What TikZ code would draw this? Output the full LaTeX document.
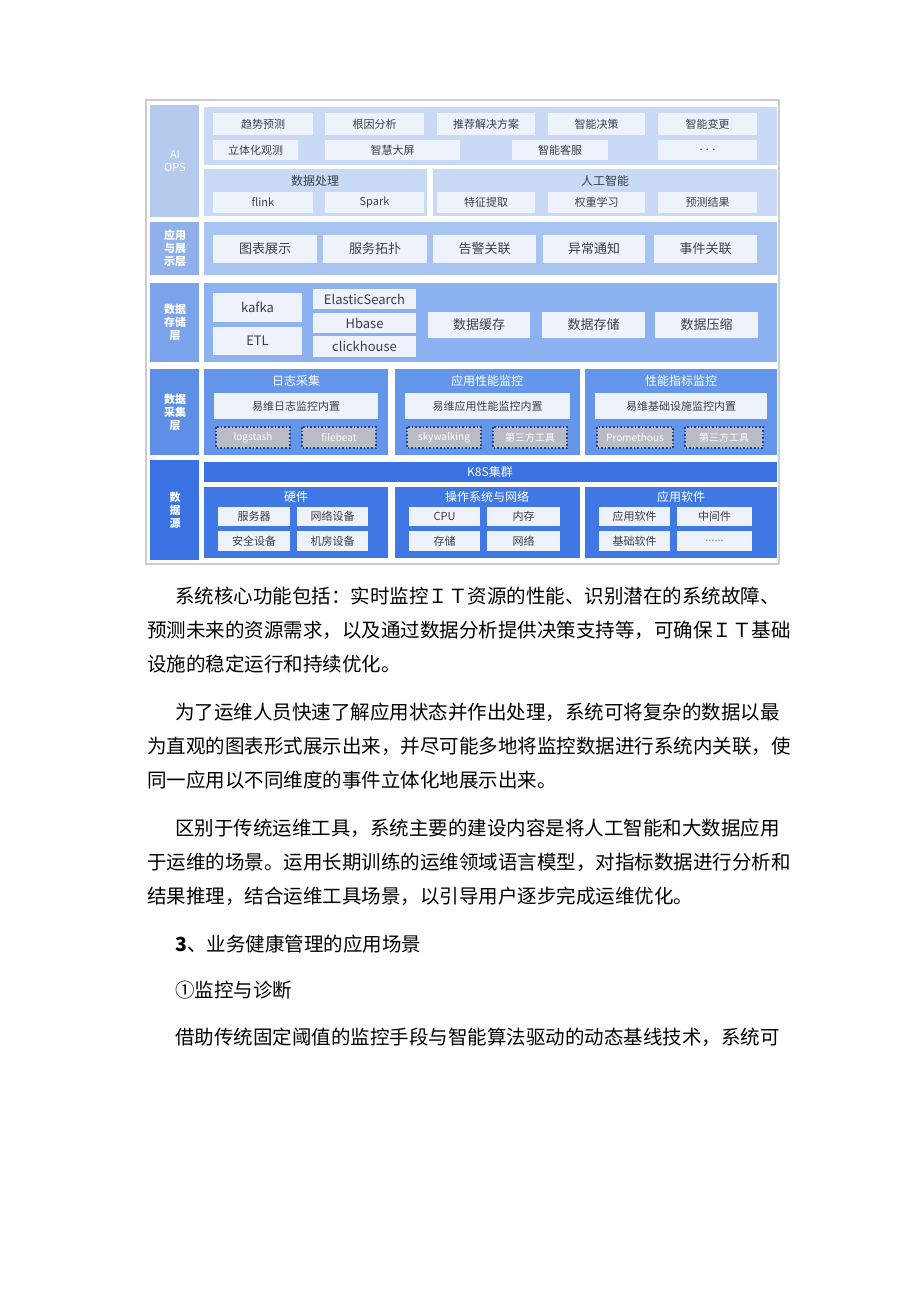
\documentclass[tikz,border=0pt]{standalone}
\usepackage{fontspec}
\setmainfont{Noto Sans CJK SC}
\newfontfamily\cjk{Noto Sans CJK SC}
\definecolor{frm}{HTML}{C8CDD6}
\definecolor{aiL}{HTML}{B5CBEE}\definecolor{aiP}{HTML}{C9DAF6}
\definecolor{bxw}{HTML}{EEF2FA}
\definecolor{apL}{HTML}{8FB0EA}\definecolor{apP}{HTML}{A7C3F2}
\definecolor{stL}{HTML}{7AA3EC}\definecolor{stP}{HTML}{8CB2F2}
\definecolor{coL}{HTML}{5D8FE6}\definecolor{coP}{HTML}{6497EC}
\definecolor{srL}{HTML}{3A72E3}\definecolor{srP}{HTML}{4079E6}
\definecolor{dsh}{HTML}{B9BCC4}\definecolor{txt}{HTML}{3A3F4A}
\newcommand\bx[6]{\fill[#5] (#1,#2) rectangle (#3,#4); \node[font=\fontsize{5.5}{6}\selectfont,text=txt] at ({(#1+#3)/2},{(#2+#4)/2}) {#6};}
\newcommand\dbx[5]{\fill[dsh] (#1,#2) rectangle (#3,#4); \draw[densely dotted,line width=0.8pt,srL!60!black] (#1,#2) rectangle (#3,#4); \node[font=\fontsize{5}{6}\selectfont,text=white] at ({(#1+#3)/2},{(#2+#4)/2}) {#5};}
\tikzset{para/.style={anchor=base west,inner sep=0pt,font=\fontsize{9.75}{12}\selectfont,text=black},
 ttx/.style={font=\fontsize{6}{7}\selectfont}}
\begin{document}
\begin{tikzpicture}[x=0.5pt,y=-0.5pt]
\useasboundingbox (0,0) rectangle (920,1301);
\fill[white] (0,0) rectangle (920,1301);
\draw[frm,line width=1pt] (146,100) rectangle (779,564);
% AI OPS
\fill[aiL] (150,105) rectangle (199,217);
\node[font=\fontsize{5.5}{6.5}\selectfont,text=white,align=center] (lai) at (175,161) {AI\\OPS};
\fill[aiP] (204,107) rectangle (777,165);
\bx{213}{113}{313}{135}{bxw}{趋势预测}
\bx{325}{113}{424}{135}{bxw}{根因分析}
\bx{437}{113}{535}{135}{bxw}{推荐解决方案}
\bx{548}{113}{645}{135}{bxw}{智能决策}
\bx{658}{113}{757}{135}{bxw}{智能变更}
\bx{213}{140}{298}{160}{bxw}{立体化观测}
\bx{325}{140}{460}{160}{bxw}{智慧大屏}
\bx{512}{140}{608}{160}{bxw}{智能客服}
\bx{658}{140}{757}{160}{bxw}{. . .}
\fill[aiP] (204,169) rectangle (427,216);
\fill[aiP] (433,169) rectangle (777,216);
\node[ttx,text=txt] (t1) at (315,181) {数据处理};
\node[ttx,text=txt] (t2) at (605,181) {人工智能};
\bx{213}{192}{313}{213}{bxw}{flink}
\bx{325}{192}{424}{213}{bxw}{Spark}
\bx{437}{192}{535}{213}{bxw}{特征提取}
\bx{548}{192}{645}{213}{bxw}{权重学习}
\bx{658}{192}{757}{213}{bxw}{预测结果}
% app layer
\fill[apL] (150,222) rectangle (199,275);
\node[font=\fontsize{5.5}{6.5}\selectfont\bfseries,text=white,align=center] (lap) at (175,248) {应用\\与展\\示层};
\fill[apP] (204,222) rectangle (777,275);
\bx{213}{235}{317}{263}{bxw}{\fontsize{6.5}{7}\selectfont 图表展示}
\bx{323}{235}{427}{263}{bxw}{\fontsize{6.5}{7}\selectfont 服务拓扑}
\bx{433}{235}{536}{263}{bxw}{\fontsize{6.5}{7}\selectfont 告警关联}
\bx{543}{235}{645}{263}{bxw}{\fontsize{6.5}{7}\selectfont 异常通知}
\bx{654}{235}{757}{263}{bxw}{\fontsize{6.5}{7}\selectfont 事件关联}
% storage
\fill[stL] (150,283) rectangle (199,362);
\node[font=\fontsize{5.5}{6.5}\selectfont\bfseries,text=white,align=center] (lst) at (175,322) {数据\\存储\\层};
\fill[stP] (204,283) rectangle (777,362);
\bx{213}{293}{302}{322}{bxw}{\fontsize{6.5}{7}\selectfont kafka}
\bx{213}{327}{302}{355}{bxw}{\fontsize{6.5}{7}\selectfont ETL}
\bx{313}{289}{416}{309}{bxw}{\fontsize{6.5}{7}\selectfont ElasticSearch}
\bx{313}{313}{416}{333}{bxw}{\fontsize{6.5}{7}\selectfont Hbase}
\bx{313}{336}{416}{357}{bxw}{\fontsize{6.5}{7}\selectfont clickhouse}
\bx{428}{312}{530}{338}{bxw}{\fontsize{6.5}{7}\selectfont 数据缓存}
\bx{542}{312}{645}{338}{bxw}{\fontsize{6.5}{7}\selectfont 数据存储}
\bx{655}{312}{758}{338}{bxw}{\fontsize{6.5}{7}\selectfont 数据压缩}
% collection
\fill[coL] (150,369) rectangle (199,455);
\node[font=\fontsize{5.5}{6.5}\selectfont\bfseries,text=white,align=center] (lco) at (175,412) {数据\\采集\\层};
\fill[coP] (204,369) rectangle (388,455);
\fill[coP] (395,369) rectangle (580,455);
\fill[coP] (585,369) rectangle (777,455);
\node[ttx,text=white] (c1) at (296,381) {日志采集};
\node[ttx,text=white] (c2) at (487,381) {应用性能监控};
\node[ttx,text=white] (c3) at (681,381) {性能指标监控};
\bx{214}{393}{378}{419}{bxw}{易维日志监控内置}
\bx{405}{393}{570}{419}{bxw}{易维应用性能监控内置}
\bx{595}{393}{767}{419}{bxw}{易维基础设施监控内置}
\dbx{216}{427}{290}{448}{logstash}
\dbx{302}{427}{376}{448}{filebeat}
\dbx{407}{427}{481}{448}{skywalking}
\dbx{493}{427}{567}{448}{第三方工具}
\dbx{597}{427}{673}{448}{Promethous}
\dbx{685}{427}{763}{448}{第三方工具}
% data source
\fill[srL] (150,460) rectangle (199,560);
\node[font=\fontsize{5.5}{6.5}\selectfont\bfseries,text=white,align=center] (lsr) at (175,510) {数\\据\\源};
\fill[srL] (204,462) rectangle (777,482);
\node[ttx,text=white] (k8s) at (490,472) {K8S集群};
\fill[srP] (204,487) rectangle (388,558);
\fill[srP] (395,487) rectangle (580,558);
\fill[srP] (585,487) rectangle (777,558);
\node[ttx,text=white] (s1) at (296,497) {硬件};
\node[ttx,text=white] (s2) at (487,497) {操作系统与网络};
\node[ttx,text=white] (s3) at (681,497) {应用软件};
\bx{218}{507}{290}{526}{bxw}{服务器}
\bx{297}{507}{368}{526}{bxw}{网络设备}
\bx{218}{531}{290}{551}{bxw}{安全设备}
\bx{297}{531}{368}{551}{bxw}{机房设备}
\bx{409}{507}{480}{526}{bxw}{CPU}
\bx{487}{507}{560}{526}{bxw}{内存}
\bx{409}{531}{480}{551}{bxw}{存储}
\bx{487}{531}{560}{551}{bxw}{网络}
\bx{599}{507}{670}{526}{bxw}{应用软件}
\bx{677}{507}{752}{526}{bxw}{中间件}
\bx{599}{531}{670}{551}{bxw}{基础软件}
\bx{677}{531}{752}{551}{bxw}{\textcolor{gray}{......}}
% paragraphs
\node[para] (p1) at (175,603) {系统核心功能包括：实时监控ＩＴ资源的性能、识别潜在的系统故障、};
\node[para] (p2) at (147,637) {预测未来的资源需求，以及通过数据分析提供决策支持等，可确保ＩＴ基础};
\node[para] (p3) at (147,671) {设施的稳定运行和持续优化。};
\node[para] (p4) at (175,719) {为了运维人员快速了解应用状态并作出处理，系统可将复杂的数据以最};
\node[para] (p5) at (147,753) {为直观的图表形式展示出来，并尽可能多地将监控数据进行系统内关联，使};
\node[para] (p6) at (147,787) {同一应用以不同维度的事件立体化地展示出来。};
\node[para] (p7) at (175,835) {区别于传统运维工具，系统主要的建设内容是将人工智能和大数据应用};
\node[para] (p8) at (147,869) {于运维的场景。运用长期训练的运维领域语言模型，对指标数据进行分析和};
\node[para] (p9) at (147,903) {结果推理，结合运维工具场景，以引导用户逐步完成运维优化。};
\node[para] (p10) at (175,951) {\textbf{3}、业务健康管理的应用场景};
\node[para] (p11) at (175,997) {①监控与诊断};
\node[para] (p12) at (175,1044) {借助传统固定阈值的监控手段与智能算法驱动的动态基线技术，系统可};
\end{tikzpicture}
\end{document}
